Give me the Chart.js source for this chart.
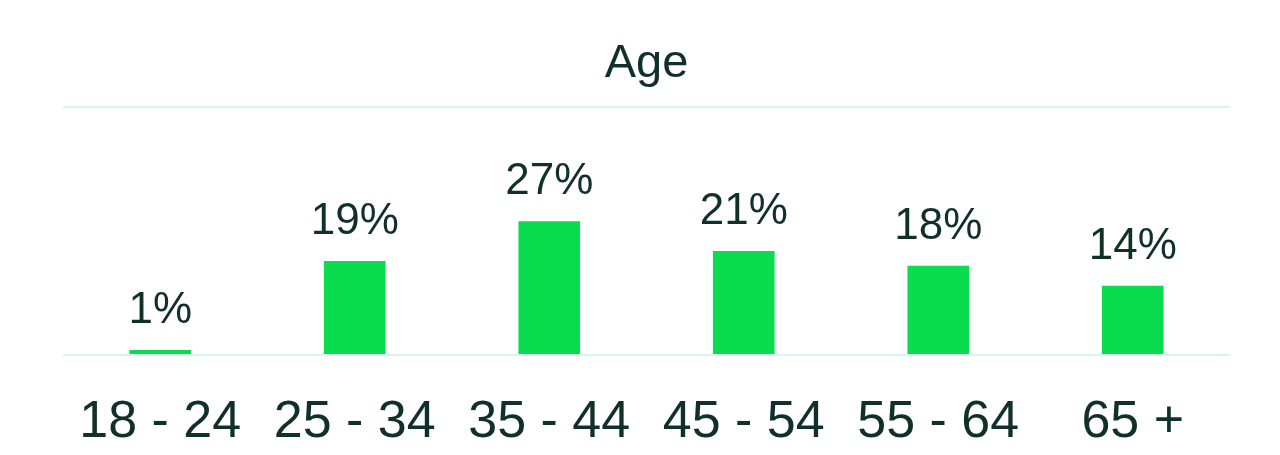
<!DOCTYPE html>
<html>
<head>
<meta charset="utf-8">
<script src="https://cdn.jsdelivr.net/npm/chart.js@4/dist/chart.umd.min.js"></script>
<style>
    html, body { margin: 0; padding: 0; background: #ffffff; }
    #wrap { width: 1280px; height: 455px; }
</style>
</head>
<body>
<div id="wrap"><canvas id="ChartAge"></canvas></div>
<script>
const ageGroups = ['18 - 24', '25 - 34', '35 - 44', '45 - 54', '55 - 64', '65 +'];
const agePercent = [1, 19, 27, 21, 18, 14];
const yTicks = [0, 50];

const textColor = '#12302a';
const gridColor = '#d6f5f0';
const barColor = '#0bdc4f';

// draws the "NN%" above every bar
const valueLabels = {
    id: 'valueLabels',
    afterDatasetsDraw(chart) {
        const ctx = chart.ctx;
        const meta = chart.getDatasetMeta(0);
        ctx.save();
        ctx.font = '44px "Liberation Sans", Arial, sans-serif';
        ctx.fillStyle = textColor;
        ctx.textAlign = 'center';
        ctx.textBaseline = 'alphabetic';
        meta.data.forEach((bar, i) => {
            ctx.fillText(agePercent[i] + '%', bar.x, bar.y - 27);
        });
        ctx.restore();
    }
};

const chartAge = document.getElementById('ChartAge');
new Chart(chartAge, {
    type: 'bar',
    data: {
        labels: ageGroups,
        datasets: [{
            label: 'Age',
            data: agePercent,
            backgroundColor: barColor,
            borderWidth: 0,
            barPercentage: 0.317,
            categoryPercentage: 1
        }]
    },
    options: {
        responsive: true,
        maintainAspectRatio: false,
        animation: false,
        layout: {
            padding: {top: 0, bottom: 5, left: 63, right: 50}
        },
        scales: {
            x: {
                afterFit: scale => {
                    scale.height = 95;
                },
                grid: {display: false, drawTicks: false},
                border: {display: false},
                ticks: {
                    color: textColor,
                    padding: 36,
                    font: {family: '"Liberation Sans", Arial, sans-serif', size: 52}
                }
            },
            y: {
                min: 0,
                max: 50,
                afterBuildTicks: axis => {
                    axis.ticks = yTicks.map(v => ({value: v}));
                },
                grid: {color: gridColor, lineWidth: 2, drawTicks: false},
                border: {display: false},
                ticks: {display: false}
            }
        },
        plugins: {
            legend: {display: false},
            tooltip: {enabled: false},
            title: {
                display: true,
                text: 'Age',
                color: textColor,
                font: {family: '"Liberation Sans", Arial, sans-serif', size: 47, weight: 'normal'},
                padding: {top: 36, bottom: 15}
            }
        }
    },
    plugins: [valueLabels]
});
</script>
</body>
</html>
